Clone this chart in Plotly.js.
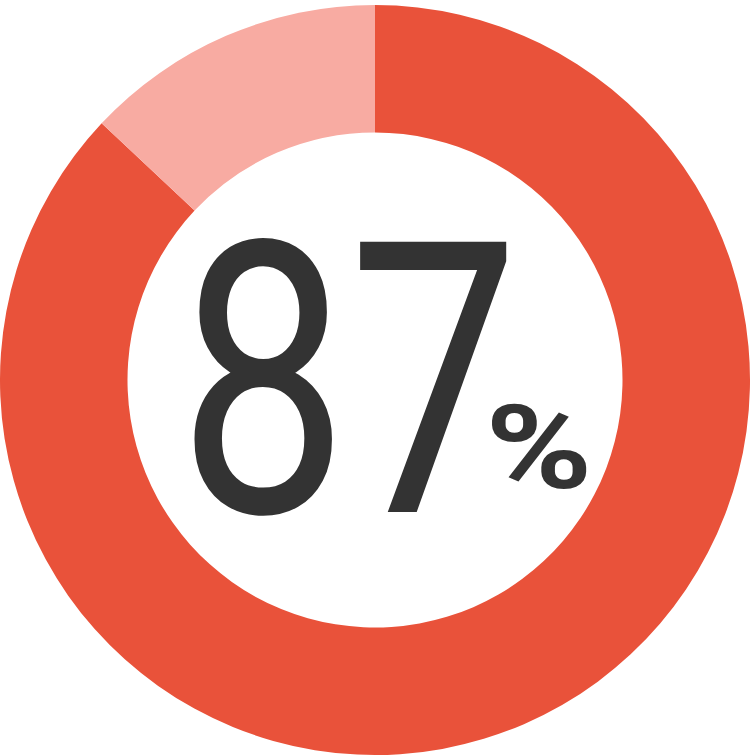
<!DOCTYPE html>
<html>
<head>
<meta charset="utf-8">
<script src="https://cdn.plot.ly/plotly-3.0.1.min.js"></script>
<style>
  html, body { margin: 0; padding: 0; background: #fff; }
  #chart { width: 750px; height: 756px; }
  /* the reference figure uses a condensed face; squeeze the digits, widen the % */
  #chart g.annotation text.annotation-text {
    transform-box: fill-box;
    transform-origin: center;
  }
  #chart g.annotation[data-index="0"] text.annotation-text { transform: scaleX(0.8); }
  #chart g.annotation[data-index="1"] text.annotation-text { transform: scaleX(1.25); }
</style>
</head>
<body>
<div id="chart"></div>
<script>
/* ── Data ─────────────────────────────────────────────────── */
const labels = ['Yes', 'No'];
const values = [87, 13];
const colors = ['#E9523A', '#F8ABA2'];

/* ── Layout helpers ───────────────────────────────────────── */
const W = 750, H = 756;
const px = x => x / W;
const py = y => 1 - y / H;
const FONT = 'Roboto, "Noto Sans", sans-serif';

const trace = {
  type: 'pie',
  labels: labels,
  values: values,
  marker: { colors: colors, line: { width: 0 } },
  hole: 0.66,
  sort: false,
  direction: 'clockwise',
  rotation: 0,
  textinfo: 'none',
  hoverinfo: 'label+percent',
  domain: { x: [0, 1], y: [0, 1 - 4 / H] },
  showlegend: false
};

const layout = {
  width: W, height: H,
  margin: { l: 0, r: 0, t: 0, b: 0 },
  paper_bgcolor: '#fff',
  showlegend: false,
  annotations: [
    {
      text: String(values[0]),
      xref: 'paper', yref: 'paper',
      x: px(348), y: py(382),
      xanchor: 'center', yanchor: 'middle',
      showarrow: false,
      font: { family: FONT, size: 380, color: '#333333' }
    },
    {
      text: '%',
      xref: 'paper', yref: 'paper',
      x: px(539), y: py(448),
      xanchor: 'center', yanchor: 'middle',
      showarrow: false,
      font: { family: FONT, size: 116, color: '#333333', weight: 'bold' }
    }
  ]
};

Plotly.newPlot('chart', [trace], layout, { displayModeBar: false, staticPlot: true });
</script>
</body>
</html>
